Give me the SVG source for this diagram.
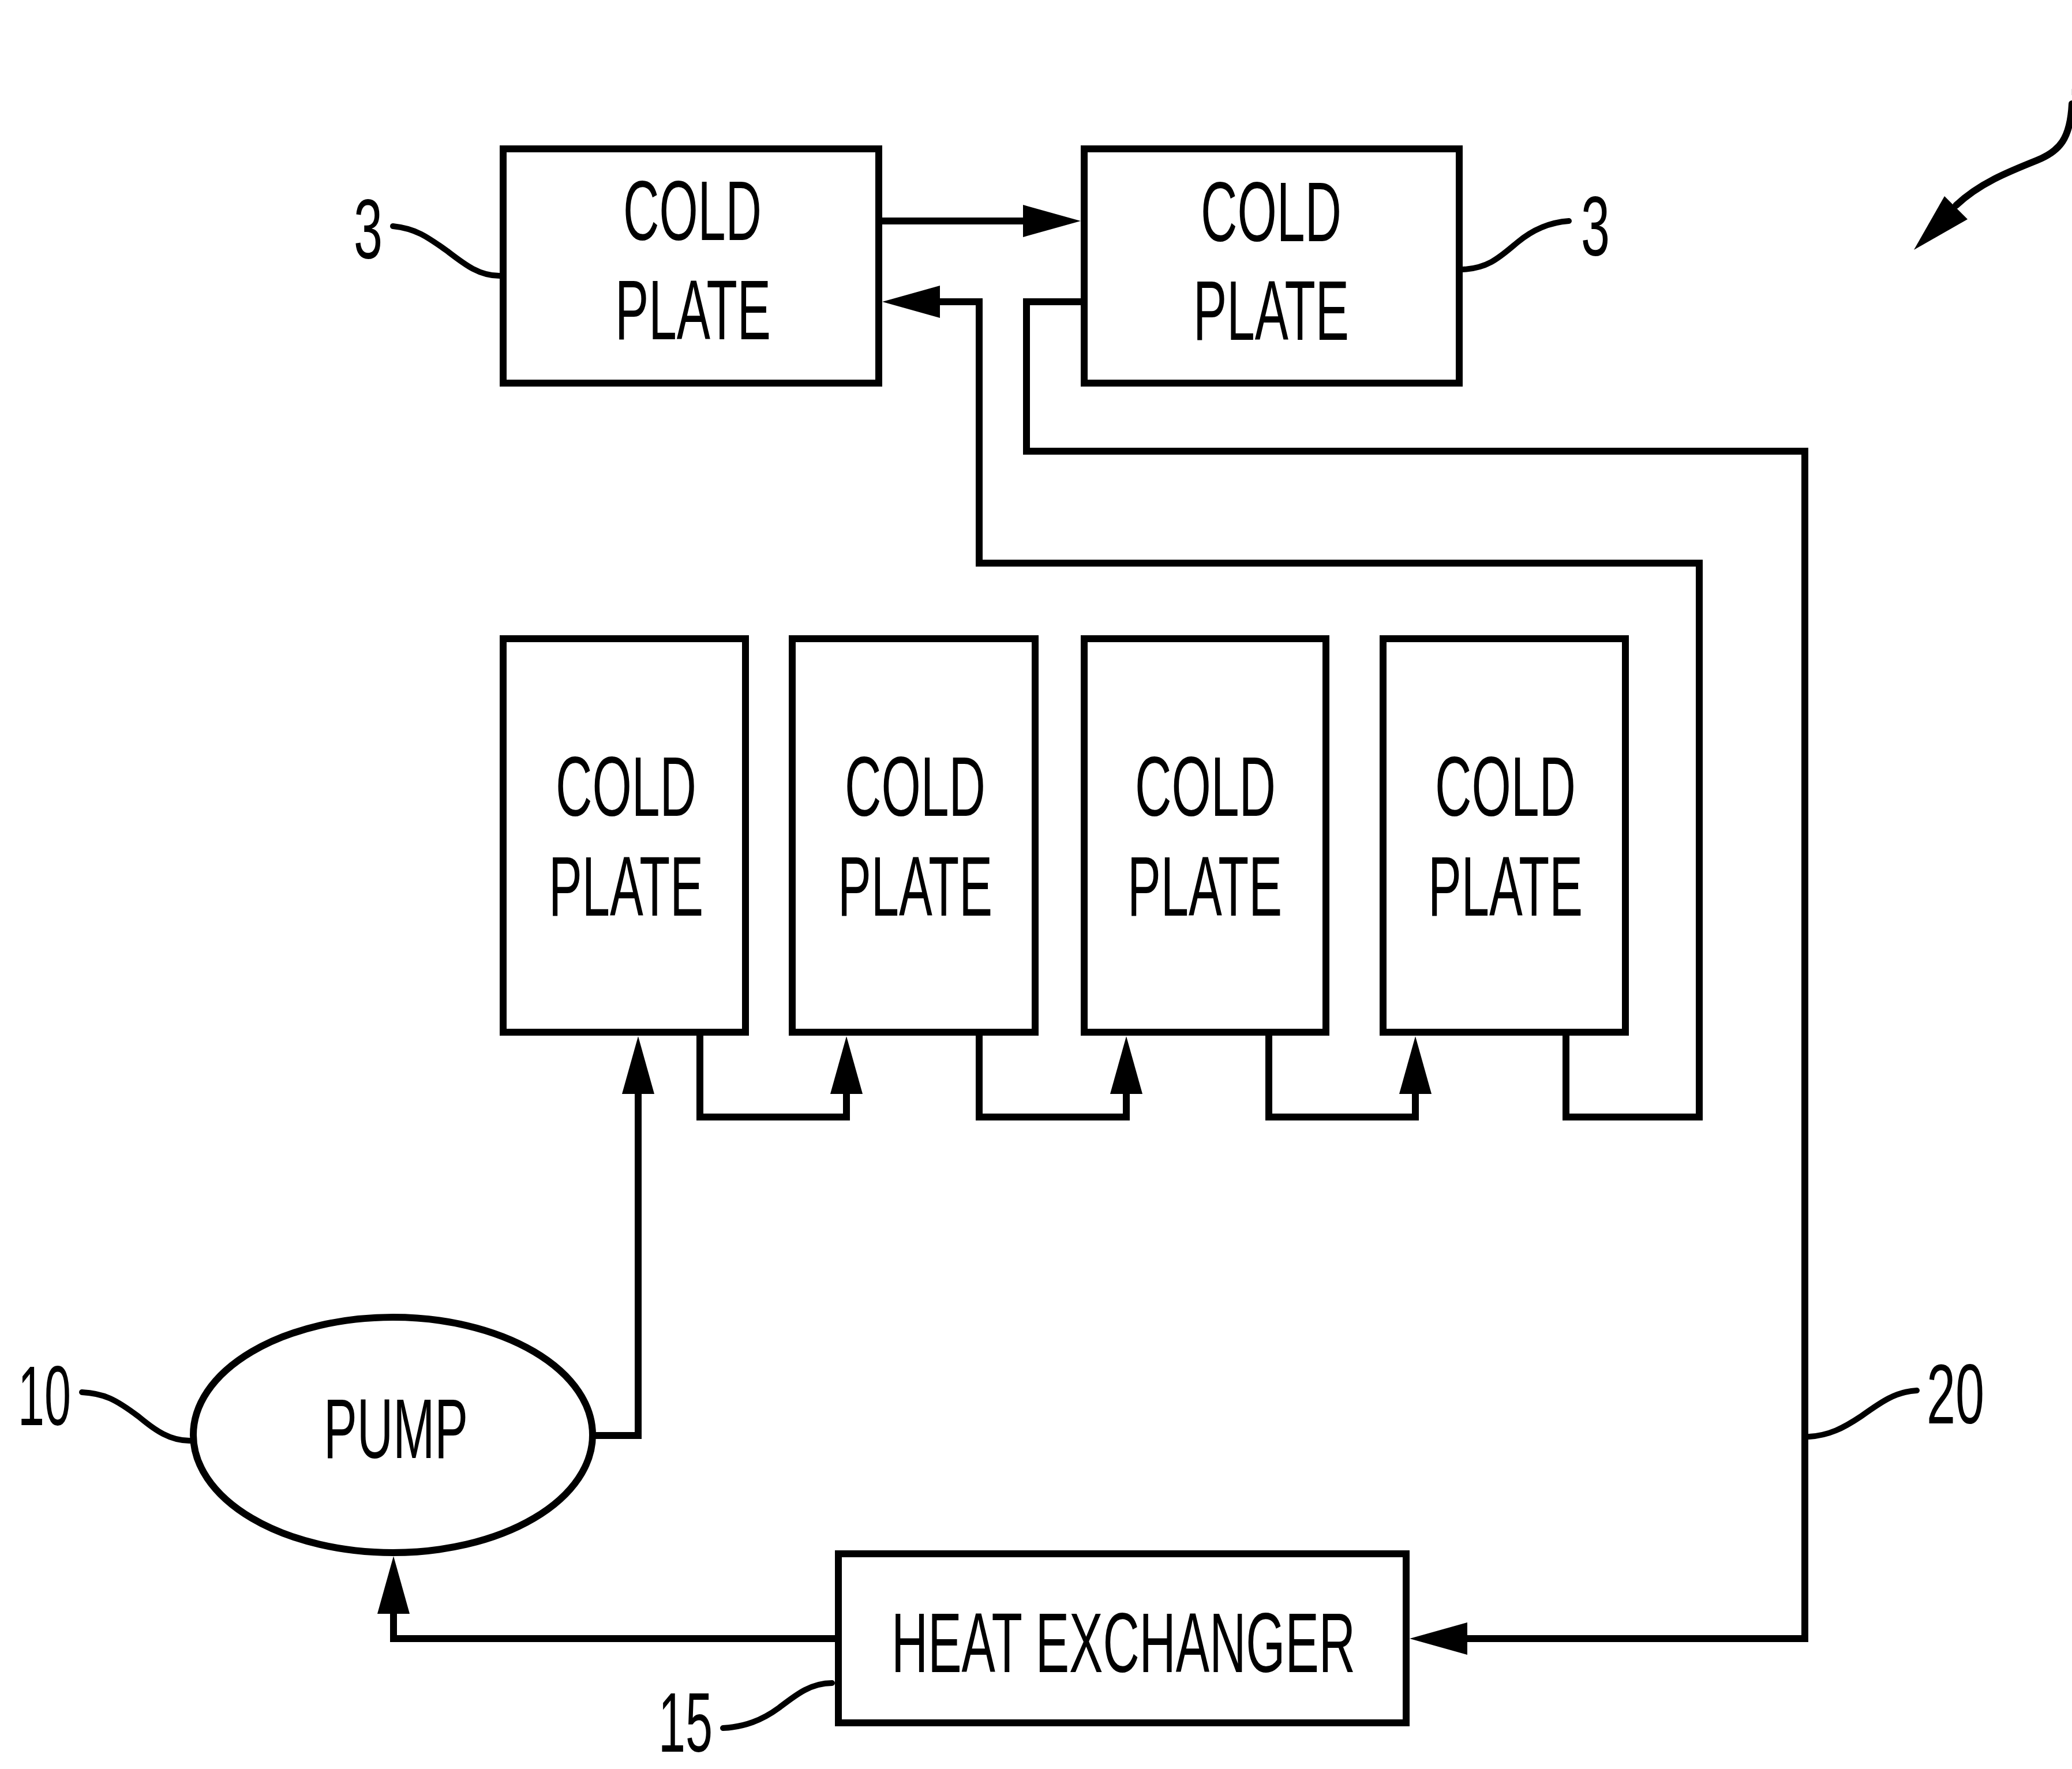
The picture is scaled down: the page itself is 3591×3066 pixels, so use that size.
<svg xmlns="http://www.w3.org/2000/svg" width="3591" height="3066" viewBox="0 0 3591 3066">
<style>
.box{fill:#fff;stroke:#000;stroke-width:12}
.wire{fill:none;stroke:#000;stroke-width:12;stroke-linejoin:miter;stroke-linecap:square}
.lead{fill:none;stroke:#000;stroke-width:10;stroke-linecap:round}
text{font-family:"Liberation Sans",Arial,sans-serif;font-size:146px;fill:#000;text-anchor:middle}
</style>
<defs>
<marker id="ah" viewBox="0 0 100 56" refX="0" refY="28" markerWidth="100" markerHeight="56" markerUnits="userSpaceOnUse" orient="auto">
<path d="M0,0 L100,28 L0,56 Z" fill="#000"/>
</marker>
</defs>
<rect width="3591" height="3066" fill="#fff"/>

<g id="connectors">
<path class="wire" d="M1529,383 H1773" marker-end="url(#ah)"/>
<path class="wire" d="M2714,1796 V1936 H2945 V976 H1697 V523 H1629" marker-end="url(#ah)"/>
<path class="wire" d="M1873,523 H1779 V782 H3128 V2840 H2543" marker-end="url(#ah)"/>
<path class="wire" d="M1447,2840 H682 V2797" marker-end="url(#ah)"/>
<path class="wire" d="M1033,2488 H1106 V1896" marker-end="url(#ah)"/>
<path class="wire" d="M1213,1796 V1936 H1467 V1896" marker-end="url(#ah)"/>
<path class="wire" d="M1697,1796 V1936 H1952 V1896" marker-end="url(#ah)"/>
<path class="wire" d="M2199,1796 V1936 H2453 V1896" marker-end="url(#ah)"/>
</g>

<g id="cold-plate-top-left">
<rect class="box" x="872" y="258" width="651" height="406"/>
<text x="1200" y="416" textLength="240" lengthAdjust="spacingAndGlyphs">COLD</text>
<text x="1201" y="588" textLength="270" lengthAdjust="spacingAndGlyphs">PLATE</text>
</g>
<g id="cold-plate-top-right">
<rect class="box" x="1879" y="258" width="650" height="406"/>
<text x="2203" y="418" textLength="244" lengthAdjust="spacingAndGlyphs">COLD</text>
<text x="2203" y="589" textLength="270" lengthAdjust="spacingAndGlyphs">PLATE</text>
</g>
<g id="cold-plate-1">
<rect class="box" x="872" y="1107" width="420" height="682"/>
<text x="1085" y="1414" textLength="244" lengthAdjust="spacingAndGlyphs">COLD</text>
<text x="1085" y="1587" textLength="268" lengthAdjust="spacingAndGlyphs">PLATE</text>
</g>
<g id="cold-plate-2">
<rect class="box" x="1373" y="1107" width="421" height="682"/>
<text x="1586" y="1414" textLength="244" lengthAdjust="spacingAndGlyphs">COLD</text>
<text x="1586" y="1587" textLength="268" lengthAdjust="spacingAndGlyphs">PLATE</text>
</g>
<g id="cold-plate-3">
<rect class="box" x="1879" y="1107" width="419" height="682"/>
<text x="2089" y="1414" textLength="244" lengthAdjust="spacingAndGlyphs">COLD</text>
<text x="2088" y="1587" textLength="268" lengthAdjust="spacingAndGlyphs">PLATE</text>
</g>
<g id="cold-plate-4">
<rect class="box" x="2397" y="1107" width="420" height="682"/>
<text x="2609" y="1414" textLength="244" lengthAdjust="spacingAndGlyphs">COLD</text>
<text x="2609" y="1587" textLength="268" lengthAdjust="spacingAndGlyphs">PLATE</text>
</g>
<g id="pump">
<ellipse class="box" cx="681" cy="2487" rx="346" ry="204"/>
<text x="686" y="2527" textLength="250" lengthAdjust="spacingAndGlyphs">PUMP</text>
</g>
<g id="heat-exchanger">
<rect class="box" x="1453" y="2693" width="984" height="293"/>
<text x="1947" y="2898" textLength="804" lengthAdjust="spacingAndGlyphs">HEAT EXCHANGER</text>
</g>

<g id="labels">
<path class="lead" d="M681,392 C720,396 740,410 775,435 C805,458 830,478 866,478"/>
<text x="638" y="448" textLength="50" lengthAdjust="spacingAndGlyphs">3</text>
<path class="lead" d="M2535,467 C2580,465 2600,445 2630,420 C2660,395 2690,385 2719,383"/>
<text x="2765" y="443" textLength="50" lengthAdjust="spacingAndGlyphs">3</text>
<path class="lead" d="M142,2413 C180,2415 200,2425 240,2455 C270,2480 295,2497 329,2497"/>
<text x="77" y="2470" textLength="92" lengthAdjust="spacingAndGlyphs">10</text>
<path class="lead" d="M1253,2995 C1290,2993 1320,2982 1350,2960 C1380,2937 1405,2917 1442,2917"/>
<text x="1188" y="3036" textLength="94" lengthAdjust="spacingAndGlyphs">15</text>
<path class="lead" d="M3135,2490 C3170,2488 3195,2475 3225,2455 C3260,2430 3285,2412 3322,2410"/>
<text x="3389" y="2467" textLength="100" lengthAdjust="spacingAndGlyphs">20</text>
</g>
<g id="figure-ref">
<text x="3609" y="165" textLength="50" lengthAdjust="spacingAndGlyphs">1</text>
<path fill="none" stroke="#000" stroke-width="12" stroke-linecap="round" d="M3591,180 C3588,240 3570,262 3530,278 C3480,298 3430,318 3390,356"/>
<polygon points="3317,433 3370,340 3410,380" fill="#000"/>
</g>
</svg>
